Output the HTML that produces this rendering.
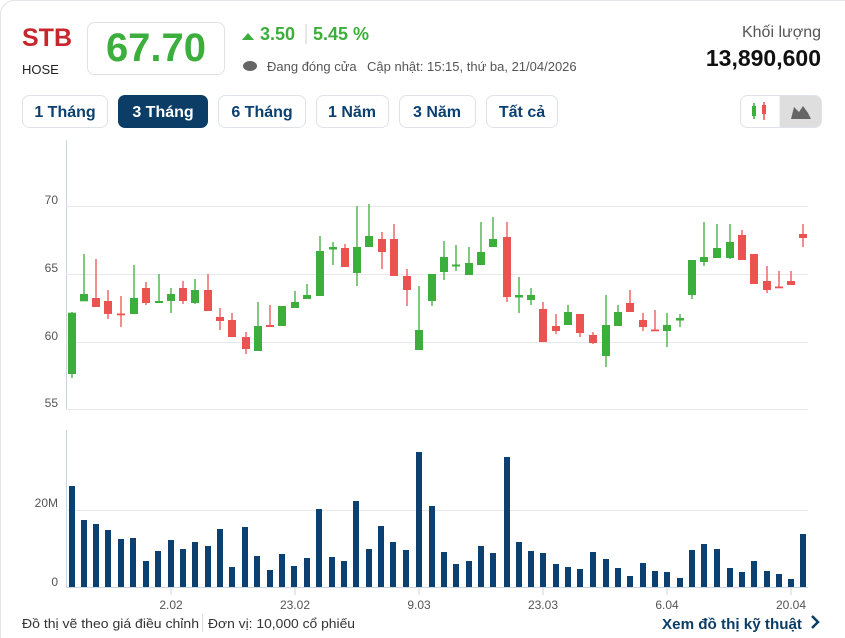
<!DOCTYPE html>
<html><head><meta charset="utf-8"><style>
body{margin:0;background:#fff;width:845px;height:638px;overflow:hidden;font-family:"Liberation Sans",sans-serif}
svg{display:block}
.g line{stroke:#3cae3c;stroke-width:1.3}.g rect{fill:#3cae3c}
.r line{stroke:#ea5350;stroke-width:1.3}.r rect{fill:#ea5350}
.v rect{fill:#0b4070}
text{font-family:"Liberation Sans",sans-serif}
</style></head><body>
<svg width="845" height="638" viewBox="0 0 845 638">
<rect x="0.5" y="0.5" width="860" height="660" rx="14" fill="#fff" stroke="#e2e4e8"/>
<text x="22" y="46" font-size="25" font-weight="bold" fill="#c8262d">STB</text>
<text x="22" y="74" font-size="13" fill="#222">HOSE</text>
<rect x="87.5" y="22.5" width="137" height="52" rx="7" fill="#fff" stroke="#dfe2e6"/>
<text x="156" y="61" font-size="40" font-weight="bold" fill="#3cae3c" text-anchor="middle">67.70</text>
<path d="M242 40 L248 33 L254 40 Z" fill="#3cae3c"/>
<text x="260" y="40" font-size="18" font-weight="bold" fill="#3cae3c">3.50</text>
<line x1="306" y1="24" x2="306" y2="44" stroke="#ccc"/>
<text x="313" y="40" font-size="18" font-weight="bold" fill="#3cae3c">5.45 %</text>
<ellipse cx="250" cy="66" rx="7" ry="5" fill="#666"/>
<text x="267" y="71" font-size="13" fill="#555">Đang đóng cửa</text>
<text x="367" y="71" font-size="13" fill="#555">Cập nhật: 15:15, thứ ba, 21/04/2026</text>
<text x="821" y="37" font-size="16" fill="#555" text-anchor="end">Khối lượng</text>
<text x="821" y="66" font-size="23" font-weight="bold" fill="#111" text-anchor="end">13,890,600</text>
<g font-size="16" font-weight="bold" text-anchor="middle">
<rect x="22.5" y="95.5" width="85" height="32" rx="7" fill="#fff" stroke="#dfe2e6"/><text x="65" y="117" fill="#0b4070">1 Tháng</text>
<rect x="118" y="95" width="90" height="33" rx="7" fill="#0b3d66"/><text x="163" y="117" fill="#fff">3 Tháng</text>
<rect x="218.5" y="95.5" width="87" height="32" rx="7" fill="#fff" stroke="#dfe2e6"/><text x="262" y="117" fill="#0b4070">6 Tháng</text>
<rect x="316.5" y="95.5" width="72" height="32" rx="7" fill="#fff" stroke="#dfe2e6"/><text x="352" y="117" fill="#0b4070">1 Năm</text>
<rect x="399.5" y="95.5" width="76" height="32" rx="7" fill="#fff" stroke="#dfe2e6"/><text x="437" y="117" fill="#0b4070">3 Năm</text>
<rect x="486.5" y="95.5" width="71" height="32" rx="7" fill="#fff" stroke="#dfe2e6"/><text x="522" y="117" fill="#0b4070">Tất cả</text>
</g>
<rect x="740.5" y="95.5" width="81" height="32" rx="7" fill="#fff" stroke="#dfe2e6"/>
<path d="M780 96 H815 A6 6 0 0 1 821 102 V121 A6 6 0 0 1 815 127 H780 Z" fill="#dedede"/>
<line x1="780" y1="96" x2="780" y2="127" stroke="#dfe2e6"/>
<rect x="752" y="106" width="4" height="10" fill="#3cae3c"/><line x1="754" y1="103" x2="754" y2="119" stroke="#3cae3c" stroke-width="1.5"/>
<rect x="762" y="105" width="4" height="9" fill="#ea5350"/><line x1="764" y1="102" x2="764" y2="120" stroke="#ea5350" stroke-width="1.5"/>
<path d="M791 119 L794 107 L799 112 L803 106 L808 113 L811 119 Z" fill="#666"/>
<line x1="66.5" y1="140" x2="66.5" y2="410" stroke="#cdd6e0"/>
<g stroke="#e6e8ec"><line x1="66" y1="206.5" x2="808" y2="206.5"/><line x1="66" y1="274.5" x2="808" y2="274.5"/><line x1="66" y1="342.5" x2="808" y2="342.5"/><line x1="66" y1="409.5" x2="808" y2="409.5"/></g>
<g font-size="12" fill="#555" text-anchor="end"><text x="58" y="204">70</text><text x="58" y="272">65</text><text x="58" y="340">60</text><text x="58" y="407">55</text></g>
<g class="g">
<line x1="72" y1="312" x2="72" y2="378"/><rect x="68" y="312.7" width="8" height="61.3"/>
<line x1="84" y1="254" x2="84" y2="301"/><rect x="80" y="294" width="8" height="7.3"/>
<line x1="134" y1="265" x2="134" y2="314"/><rect x="130" y="298" width="8" height="16"/>
<line x1="159" y1="274" x2="159" y2="303"/><rect x="155" y="301" width="8" height="2"/>
<line x1="171" y1="288" x2="171" y2="313"/><rect x="167" y="294" width="8" height="7"/>
<line x1="195" y1="279" x2="195" y2="304"/><rect x="191" y="290" width="8" height="13"/>
<line x1="258" y1="302" x2="258" y2="351"/><rect x="254" y="326" width="8" height="25"/>
<rect x="278" y="306" width="8" height="20"/>
<line x1="295" y1="291" x2="295" y2="308"/><rect x="291" y="302" width="8" height="6"/>
<line x1="307" y1="284" x2="307" y2="299"/><rect x="303" y="295" width="8" height="4"/>
<line x1="320" y1="236" x2="320" y2="296"/><rect x="316" y="251" width="8" height="45"/>
<line x1="333" y1="242" x2="333" y2="265"/><rect x="329" y="247" width="8" height="2.5"/>
<line x1="357" y1="206" x2="357" y2="286"/><rect x="353" y="247" width="8" height="26"/>
<line x1="369" y1="204" x2="369" y2="247"/><rect x="365" y="236" width="8" height="11"/>
<line x1="419" y1="286" x2="419" y2="350"/><rect x="415" y="330" width="8" height="20"/>
<line x1="432" y1="274" x2="432" y2="306"/><rect x="428" y="274" width="8" height="27"/>
<line x1="444" y1="241" x2="444" y2="280"/><rect x="440" y="257" width="8" height="15"/>
<line x1="456" y1="245" x2="456" y2="271"/><rect x="452" y="264.5" width="8" height="2"/>
<line x1="469" y1="247" x2="469" y2="275"/><rect x="465" y="263" width="8" height="12"/>
<line x1="481" y1="222" x2="481" y2="265"/><rect x="477" y="252" width="8" height="13"/>
<line x1="493" y1="217" x2="493" y2="247"/><rect x="489" y="239" width="8" height="8"/>
<line x1="519" y1="277" x2="519" y2="313"/><rect x="515" y="295" width="8" height="2.5"/>
<line x1="531" y1="288" x2="531" y2="305"/><rect x="527" y="295" width="8" height="5"/>
<line x1="568" y1="305" x2="568" y2="325"/><rect x="564" y="312" width="8" height="13"/>
<line x1="606" y1="295" x2="606" y2="367"/><rect x="602" y="325" width="8" height="31"/>
<line x1="618" y1="305" x2="618" y2="326"/><rect x="614" y="312" width="8" height="14"/>
<line x1="667" y1="313" x2="667" y2="347"/><rect x="663" y="325" width="8" height="6"/>
<line x1="680" y1="314" x2="680" y2="327"/><rect x="676" y="318" width="8" height="2.5"/>
<line x1="692" y1="260" x2="692" y2="299"/><rect x="688" y="260" width="8" height="35"/>
<line x1="704" y1="222" x2="704" y2="266"/><rect x="700" y="257" width="8" height="5"/>
<line x1="717" y1="224" x2="717" y2="258"/><rect x="713" y="248" width="8" height="10"/>
<line x1="730" y1="224" x2="730" y2="259"/><rect x="726" y="242" width="8" height="16"/>
</g>
<g class="r">
<line x1="96" y1="259" x2="96" y2="307"/><rect x="92" y="298" width="8" height="9"/>
<line x1="108" y1="290" x2="108" y2="319"/><rect x="104" y="301" width="8" height="13"/>
<line x1="121" y1="296" x2="121" y2="327"/><rect x="117" y="313.5" width="8" height="1.8"/>
<line x1="146" y1="282" x2="146" y2="305"/><rect x="142" y="288" width="8" height="15"/>
<line x1="183" y1="281" x2="183" y2="304"/><rect x="179" y="288" width="8" height="13"/>
<line x1="208" y1="274" x2="208" y2="311"/><rect x="204" y="290" width="8" height="21"/>
<line x1="220" y1="308" x2="220" y2="330"/><rect x="216" y="317" width="8" height="4"/>
<line x1="232" y1="313" x2="232" y2="337"/><rect x="228" y="320" width="8" height="17"/>
<line x1="246" y1="332" x2="246" y2="354"/><rect x="242" y="337" width="8" height="12"/>
<line x1="270" y1="305" x2="270" y2="327"/><rect x="266" y="325" width="8" height="2"/>
<line x1="345" y1="244" x2="345" y2="267"/><rect x="341" y="248" width="8" height="19"/>
<line x1="382" y1="232" x2="382" y2="269"/><rect x="378" y="239" width="8" height="13"/>
<line x1="394" y1="224" x2="394" y2="276"/><rect x="390" y="239" width="8" height="37"/>
<line x1="407" y1="269" x2="407" y2="306"/><rect x="403" y="276" width="8" height="14"/>
<line x1="507" y1="222" x2="507" y2="302"/><rect x="503" y="237" width="8" height="60"/>
<line x1="543" y1="302" x2="543" y2="342"/><rect x="539" y="309" width="8" height="33"/>
<line x1="556" y1="314" x2="556" y2="334"/><rect x="552" y="326" width="8" height="5"/>
<line x1="580" y1="314" x2="580" y2="337"/><rect x="576" y="314" width="8" height="19"/>
<line x1="593" y1="332" x2="593" y2="344"/><rect x="589" y="335" width="8" height="8"/>
<line x1="630" y1="290" x2="630" y2="312"/><rect x="626" y="303" width="8" height="9"/>
<line x1="643" y1="313" x2="643" y2="331"/><rect x="639" y="320" width="8" height="7"/>
<line x1="655" y1="310" x2="655" y2="331"/><rect x="651" y="329.5" width="8" height="1.8"/>
<line x1="742" y1="230" x2="742" y2="260"/><rect x="738" y="235" width="8" height="25"/>
<line x1="754" y1="254" x2="754" y2="284"/><rect x="750" y="254" width="8" height="30"/>
<line x1="767" y1="266" x2="767" y2="293"/><rect x="763" y="281" width="8" height="9"/>
<line x1="779" y1="271" x2="779" y2="288"/><rect x="775" y="286.5" width="8" height="1.8"/>
<line x1="791" y1="271" x2="791" y2="285"/><rect x="787" y="281" width="8" height="4"/>
<line x1="803" y1="224" x2="803" y2="247"/><rect x="799" y="234" width="8" height="4"/>
</g>
<line x1="66.5" y1="430" x2="66.5" y2="588" stroke="#cdd6e0"/>
<line x1="66" y1="510.5" x2="808" y2="510.5" stroke="#e6e8ec"/>
<line x1="66" y1="587.5" x2="808" y2="587.5" stroke="#cdd6e0"/>
<g font-size="12" fill="#555" text-anchor="end"><text x="58" y="507">20M</text><text x="58" y="586">0</text></g>
<g class="v">
<rect x="69" y="486" width="6" height="101"/><rect x="81" y="520" width="6" height="67"/><rect x="93" y="524" width="6" height="63"/><rect x="105" y="530" width="6" height="57"/><rect x="118" y="539" width="6" height="48"/><rect x="130" y="538" width="6" height="49"/><rect x="143" y="561" width="6" height="26"/><rect x="155" y="551" width="6" height="36"/><rect x="168" y="540" width="6" height="47"/><rect x="180" y="549" width="6" height="38"/><rect x="192" y="542" width="6" height="45"/><rect x="205" y="546" width="6" height="41"/><rect x="217" y="529" width="6" height="58"/><rect x="229" y="567" width="6" height="20"/><rect x="242" y="527" width="6" height="60"/><rect x="254" y="556" width="6" height="31"/><rect x="267" y="570" width="6" height="17"/><rect x="279" y="554" width="6" height="33"/><rect x="291" y="566" width="6" height="21"/><rect x="304" y="558" width="6" height="29"/><rect x="316" y="509" width="6" height="78"/><rect x="329" y="557" width="6" height="30"/><rect x="341" y="561" width="6" height="26"/><rect x="353" y="501" width="6" height="86"/><rect x="366" y="549" width="6" height="38"/><rect x="378" y="526" width="6" height="61"/><rect x="390" y="542" width="6" height="45"/><rect x="403" y="550" width="6" height="37"/><rect x="416" y="452" width="6" height="135"/><rect x="429" y="506" width="6" height="81"/>
<rect x="441" y="552" width="6" height="35"/><rect x="453" y="564" width="6" height="23"/><rect x="466" y="561" width="6" height="26"/><rect x="478" y="546" width="6" height="41"/><rect x="490" y="553" width="6" height="34"/><rect x="504" y="457" width="6" height="130"/><rect x="516" y="542" width="6" height="45"/><rect x="528" y="551" width="6" height="36"/><rect x="540" y="553" width="6" height="34"/><rect x="553" y="564" width="6" height="23"/><rect x="565" y="567" width="6" height="20"/><rect x="577" y="569" width="6" height="18"/><rect x="590" y="552" width="6" height="35"/><rect x="603" y="559" width="6" height="28"/><rect x="615" y="568" width="6" height="19"/><rect x="627" y="576" width="6" height="11"/><rect x="640" y="563" width="6" height="24"/><rect x="652" y="571" width="6" height="16"/><rect x="664" y="572" width="6" height="15"/><rect x="677" y="578" width="6" height="9"/><rect x="689" y="550" width="6" height="37"/><rect x="701" y="544" width="6" height="43"/><rect x="714" y="549" width="6" height="38"/><rect x="727" y="568" width="6" height="19"/><rect x="739" y="572" width="6" height="15"/><rect x="751" y="561" width="6" height="26"/><rect x="764" y="571" width="6" height="16"/><rect x="776" y="574" width="6" height="13"/><rect x="788" y="579" width="6" height="8"/><rect x="800" y="534" width="6" height="53"/>
</g>
<g stroke="#cdd6e0"><line x1="171" y1="588" x2="171" y2="595"/><line x1="295" y1="588" x2="295" y2="595"/><line x1="419" y1="588" x2="419" y2="595"/><line x1="543" y1="588" x2="543" y2="595"/><line x1="667" y1="588" x2="667" y2="595"/><line x1="791" y1="588" x2="791" y2="595"/></g>
<g font-size="12" fill="#555" text-anchor="middle"><text x="171" y="609">2.02</text><text x="295" y="609">23.02</text><text x="419" y="609">9.03</text><text x="543" y="609">23.03</text><text x="667" y="609">6.04</text><text x="791" y="609">20.04</text></g>
<text x="22" y="628" font-size="13" fill="#333" textLength="177" lengthAdjust="spacingAndGlyphs">Đồ thị vẽ theo giá điều chỉnh</text>
<line x1="202.5" y1="614" x2="202.5" y2="632" stroke="#ddd"/>
<text x="208" y="628" font-size="13" fill="#333" textLength="147" lengthAdjust="spacingAndGlyphs">Đơn vị: 10,000 cổ phiếu</text>
<text x="662" y="629" font-size="15" font-weight="bold" fill="#0b3d66" textLength="140" lengthAdjust="spacingAndGlyphs">Xem đồ thị kỹ thuật</text>
<path d="M812 616 L818 622 L812 628" fill="none" stroke="#0b3d66" stroke-width="2.5"/>
</svg>
</body></html>
